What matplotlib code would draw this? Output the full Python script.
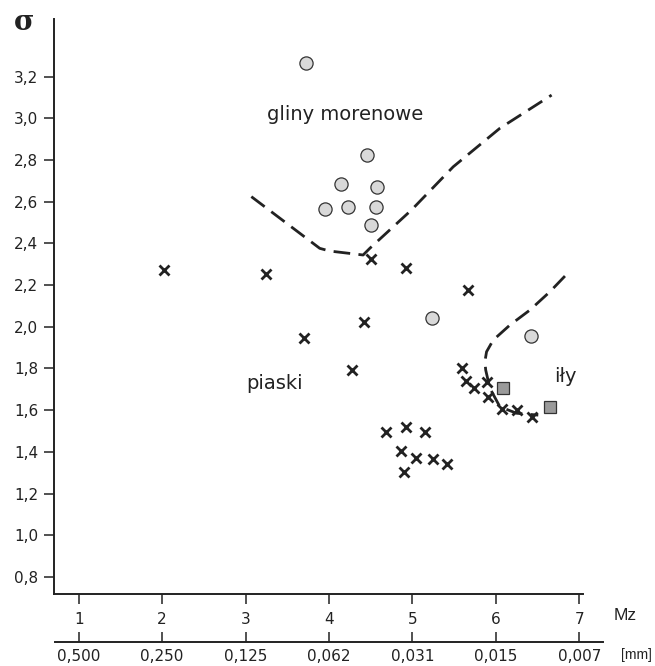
import numpy as np
import matplotlib.pyplot as plt

# gliny morenowe (circles)
glina_mz = [3.72, 4.46, 4.14, 4.58, 3.95, 4.23, 4.57, 4.51, 5.24, 6.42]
glina_sd = [3.265, 2.824, 2.684, 2.67, 2.565, 2.574, 2.574, 2.488, 2.041, 1.955]

# piaski (crosses)
piasek_mz = [2.02, 3.24, 3.70, 4.42, 4.28, 4.51, 4.93, 5.67,
             5.60, 5.64, 5.74, 5.90, 5.91, 6.08, 6.25, 6.43,
             4.69, 4.93, 5.15, 4.87, 5.05, 5.25, 5.41, 4.90]
piasek_sd = [2.272, 2.253, 1.946, 2.023, 1.793, 2.325, 2.282, 2.176,
             1.80, 1.74, 1.705, 1.736, 1.661, 1.604, 1.60, 1.565,
             1.496, 1.52, 1.496, 1.405, 1.369, 1.364, 1.341, 1.302]

# iły (squares)
il_mz = [6.09, 6.65]
il_sd = [1.706, 1.615]

# boundary lines
gr1_mz = [3.07, 3.89, 4.01, 4.41, 4.49, 4.99, 5.49, 6.05, 6.67]
gr1_sd = [2.624, 2.376, 2.363, 2.344, 2.376, 2.56, 2.767, 2.952, 3.111]
gr2_mz = [6.83, 6.65, 6.41, 6.17, 5.97, 5.89, 5.87, 5.88, 5.93, 6.05, 6.25, 6.51]
gr2_sd = [2.243, 2.168, 2.08, 2.008, 1.936, 1.88, 1.832, 1.792, 1.705, 1.616, 1.585, 1.576]

mz_ticks = [1, 2, 3, 4, 5, 6, 7]
mm_labels = ["0,500", "0,250", "0,125", "0,062", "0,031", "0,015", "0,007"]
sd_ticks = [0.8, 1.0, 1.2, 1.4, 1.6, 1.8, 2.0, 2.2, 2.4, 2.6, 2.8, 3.0, 3.2]

plt.rcParams['font.family'] = 'DejaVu Sans'
W, H = 655, 666
fig = plt.figure(figsize=(W / 100, H / 100), dpi=100)

def box(l, t, r, b):
    return [l / W, 1 - b / H, (r - l) / W, (b - t) / H]

ink = '#222222'
ax = fig.add_axes(box(54, 19, 583.3, 594))
ax.set_xlim(0.704, 7.05)
ax.set_ylim(0.718, 3.476)
for s in ['top', 'right']:
    ax.spines[s].set_visible(False)
for s in ['left', 'bottom']:
    ax.spines[s].set_linewidth(1.4)
    ax.spines[s].set_color(ink)

ax.plot(gr1_mz, gr1_sd, color=ink, lw=2.0, dashes=(6, 3))
ax.plot(gr2_mz, gr2_sd, color=ink, lw=2.0, dashes=(6, 3))
ax.plot(piasek_mz, piasek_sd, ls='none', marker='x', ms=7.5, mew=2.0, color=ink)
ax.plot(glina_mz, glina_sd, ls='none', marker='o', ms=9.5, mfc='#d9d9d9', mec='#333333', mew=0.9)
ax.plot(il_mz, il_sd, ls='none', marker='s', ms=8.5, mfc='#9a9a9a', mec='#333333', mew=0.9)

ax.text(4.2, 3.02, "gliny morenowe", fontsize=14, color=ink, ha='center', va='center')
ax.text(3.35, 1.73, "piaski", fontsize=14, color=ink, ha='center', va='center')
ax.text(6.83, 1.76, "iły", fontsize=14, color=ink, ha='center', va='center')

ax.set_xticks(mz_ticks)
ax.set_xticklabels([str(v) for v in mz_ticks])
ax.set_yticks(sd_ticks)
ax.set_yticklabels([f"{v:.1f}".replace('.', ',') for v in sd_ticks])
ax.tick_params(axis='both', direction='out', length=7.2, width=1.1, color=ink,
               labelsize=11, labelcolor=ink)
ax.tick_params(axis='x', pad=6)
ax.tick_params(axis='y', pad=4)

# mm scale below
ax2 = fig.add_axes(box(55, 641.7, 603, 641.7))
ax2.set_xlim(0.716, 7.284)
ax2.set_ylim(0, 1)
for s in ['top', 'right', 'left']:
    ax2.spines[s].set_visible(False)
ax2.spines['bottom'].set_linewidth(1.4)
ax2.spines['bottom'].set_color(ink)
ax2.set_yticks([])
ax2.set_xticks(mz_ticks)
ax2.set_xticklabels(mm_labels)
ax2.tick_params(axis='x', direction='in', length=7.2, width=1.1, color=ink,
                labelsize=11, labelcolor=ink, pad=5)

fig.text(614 / W, 1 - 616 / H, "Mz", fontsize=12.5, color=ink, ha='left', va='center',
         family='Liberation Sans')
fig.text(621 / W, 1 - 655 / H, "[mm]", fontsize=10, color=ink, ha='left', va='center',
         family='Liberation Sans')
fig.text(24 / W, 1 - 23 / H, "σ", fontsize=20, color=ink, ha='center', va='center',
         family='DejaVu Serif', fontweight='bold')

fig.savefig('out.png', dpi=100)
